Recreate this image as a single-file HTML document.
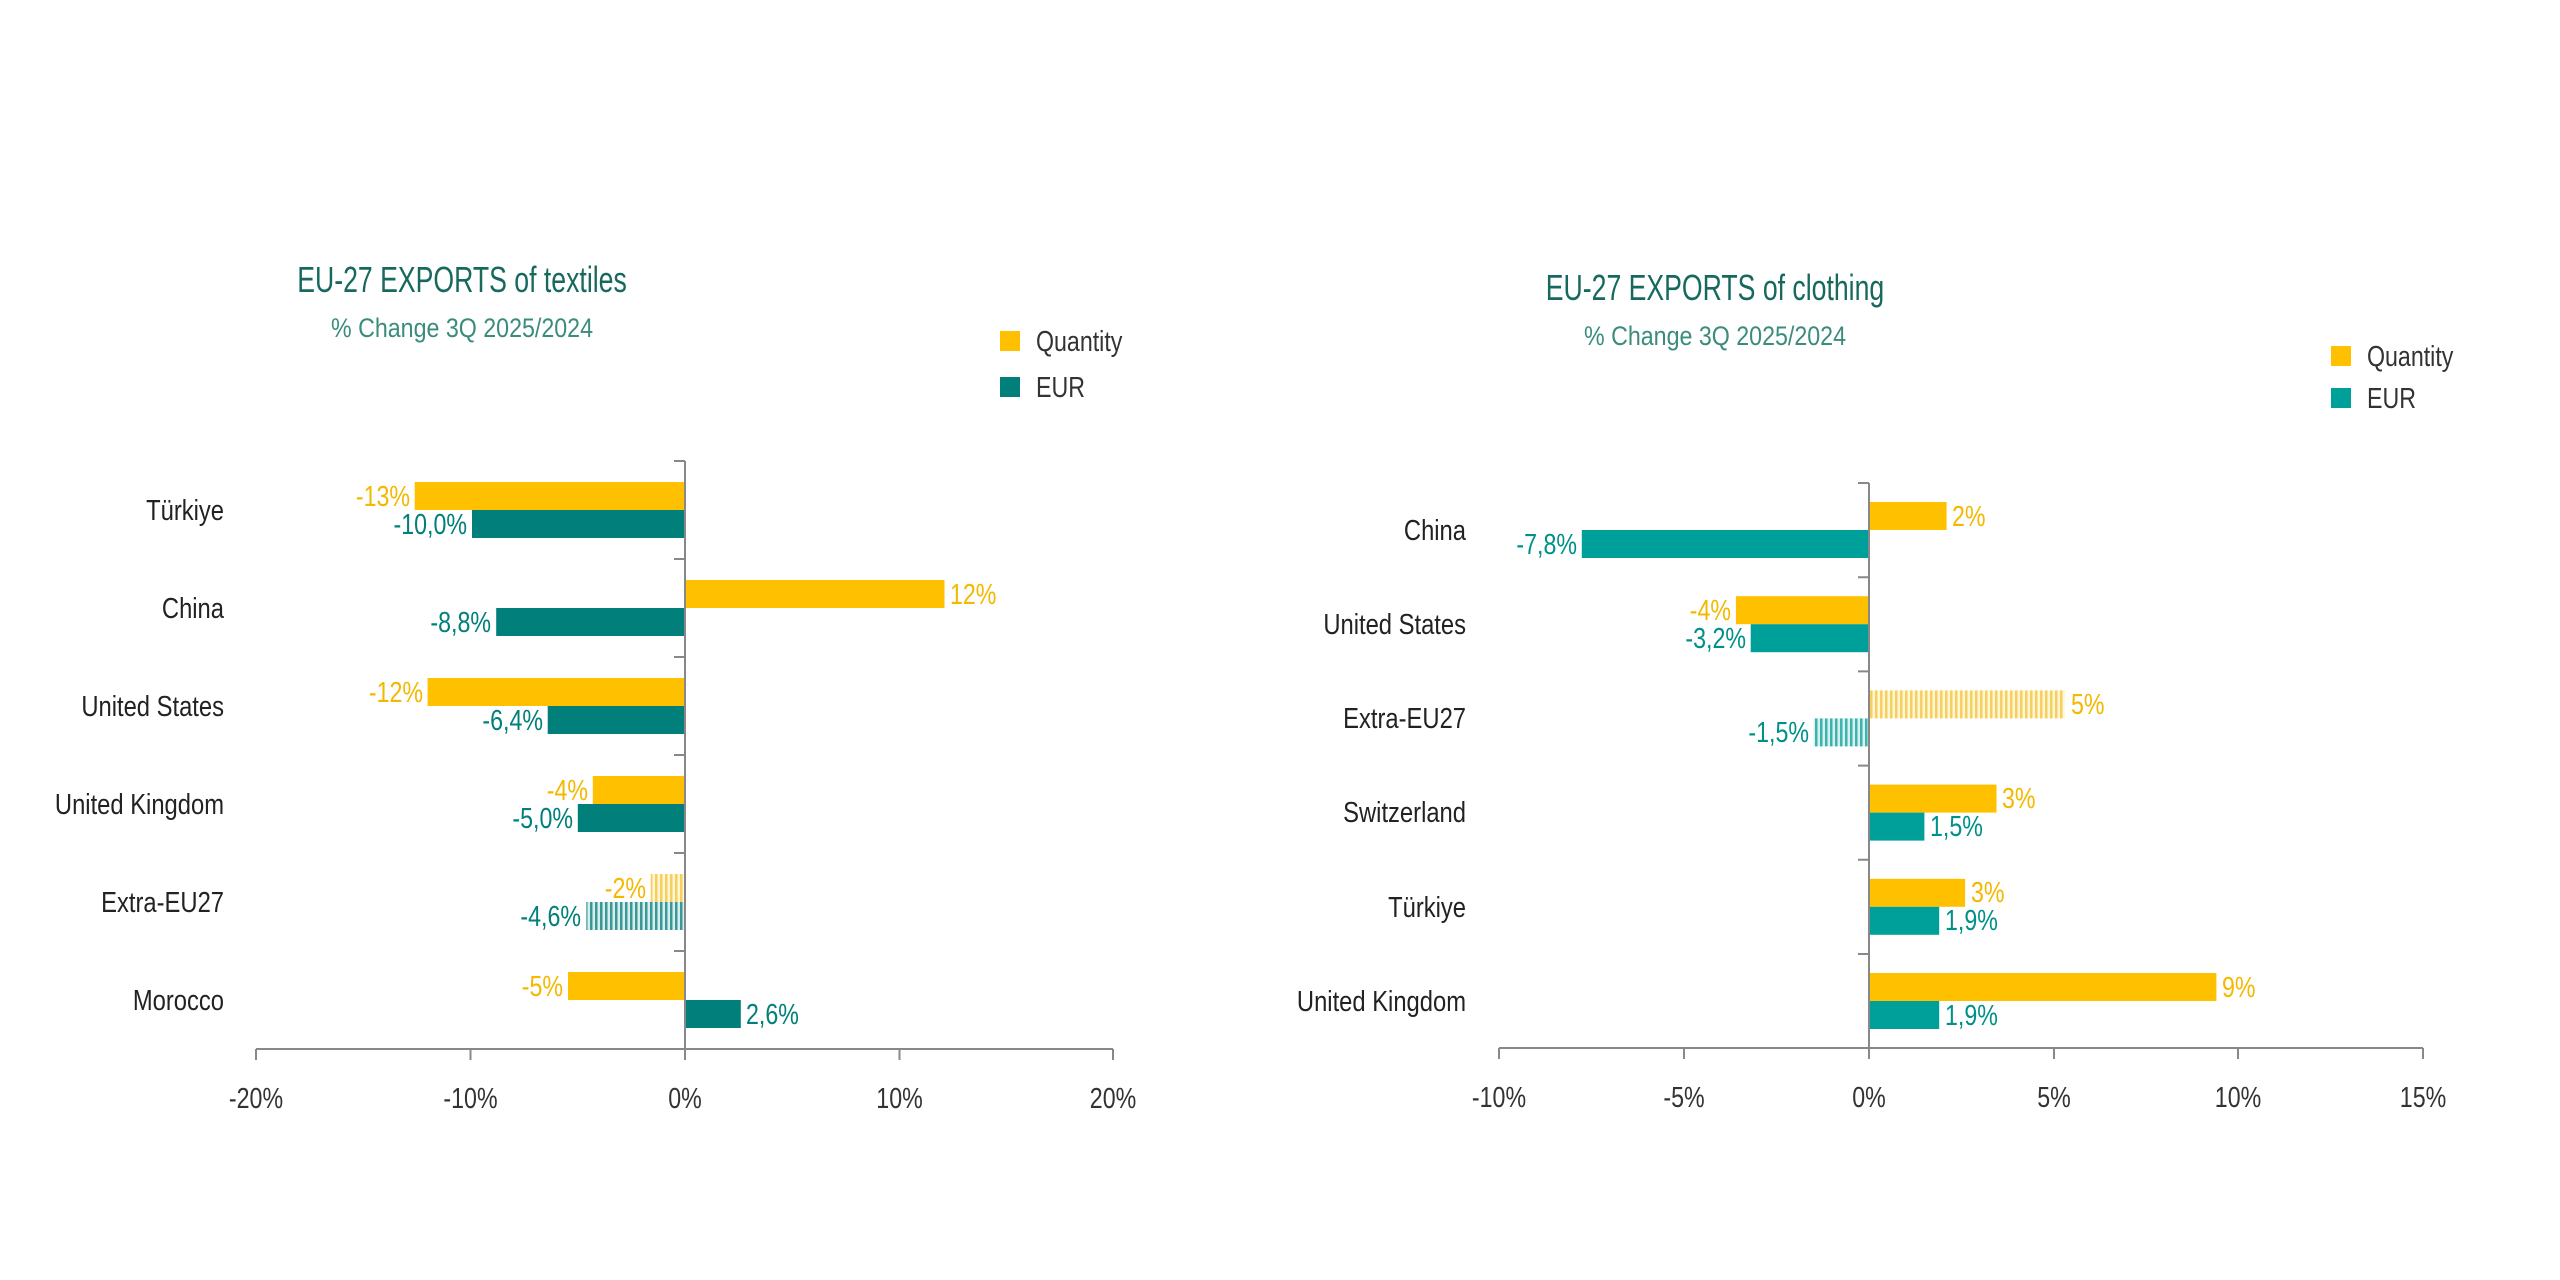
<!DOCTYPE html>
<html><head><meta charset="utf-8"><style>
html,body{margin:0;padding:0;background:#fff;}
svg{display:block;font-family:"Liberation Sans",sans-serif;}
</style></head><body>
<svg width="2560" height="1280" viewBox="0 0 2560 1280" xmlns="http://www.w3.org/2000/svg">
<defs>
<pattern id="hy" width="5" height="10" patternUnits="userSpaceOnUse"><rect width="5" height="10" fill="#fff6d6"/><rect width="2.5" height="10" fill="#f5cf60"/></pattern>
<pattern id="ht1" width="5" height="10" patternUnits="userSpaceOnUse"><rect width="5" height="10" fill="#d8eeee"/><rect width="2.5" height="10" fill="#3a9996"/></pattern>
<pattern id="ht2" width="5" height="10" patternUnits="userSpaceOnUse"><rect width="5" height="10" fill="#d8f0ef"/><rect width="2.5" height="10" fill="#3db3ae"/></pattern>
</defs>

<!-- LEFT CHART -->
<text transform="translate(462 292) scale(0.74 1)" font-size="36" fill="#17695e" text-anchor="middle">EU-27 EXPORTS of textiles</text>
<text transform="translate(462 337) scale(0.86 1)" font-size="27" fill="#3a8c7c" text-anchor="middle">% Change 3Q  2025/2024</text>
<rect x="1000" y="331" width="20" height="20" fill="#FFC000"/>
<text transform="translate(1036 351) scale(0.8 1)" font-size="29" fill="#333">Quantity</text>
<rect x="1000" y="377" width="20" height="20" fill="#007F7B"/>
<text transform="translate(1036 397) scale(0.8 1)" font-size="29" fill="#333">EUR</text>

<g fill="#FFC000">
<rect x="414.7" y="482" width="270.3" height="28"/>
<rect x="685" y="580" width="259.5" height="28"/>
<rect x="427.6" y="678" width="257.4" height="28"/>
<rect x="592.8" y="776" width="92.2" height="28"/>
<rect x="568" y="972" width="117" height="28"/>
</g>
<rect x="650.7" y="874" width="34.3" height="28" fill="url(#hy)"/>
<g fill="#007F7B">
<rect x="472" y="510" width="213" height="28"/>
<rect x="496.2" y="608" width="188.8" height="28"/>
<rect x="547.7" y="706" width="137.3" height="28"/>
<rect x="577.8" y="804" width="107.2" height="28"/>
<rect x="685" y="1000" width="55.8" height="28"/>
</g>
<rect x="586.3" y="902" width="98.7" height="28" fill="url(#ht1)"/>

<g font-size="29" fill="#F5B800" text-anchor="end">
<text transform="translate(410 506) scale(0.8 1)">-13%</text>
<text transform="translate(423 702) scale(0.8 1)">-12%</text>
<text transform="translate(588 800) scale(0.8 1)">-4%</text>
<text transform="translate(646 898) scale(0.8 1)">-2%</text>
<text transform="translate(563 996) scale(0.8 1)">-5%</text>
</g>
<text transform="translate(950 604) scale(0.8 1)" font-size="29" fill="#F5B800">12%</text>
<g font-size="29" fill="#007F7B" text-anchor="end">
<text transform="translate(467 534) scale(0.8 1)">-10,0%</text>
<text transform="translate(491 632) scale(0.8 1)">-8,8%</text>
<text transform="translate(543 730) scale(0.8 1)">-6,4%</text>
<text transform="translate(573 828) scale(0.8 1)">-5,0%</text>
<text transform="translate(581 926) scale(0.8 1)">-4,6%</text>
</g>
<text transform="translate(746 1024) scale(0.8 1)" font-size="29" fill="#007F7B">2,6%</text>

<g stroke="#888" stroke-width="2" fill="none">
<line x1="685" y1="461" x2="685" y2="1049"/>
<path d="M674 461H685M674 559H685M674 657H685M674 755H685M674 853H685M674 951H685"/>
<line x1="256" y1="1049" x2="1113" y2="1049"/>
<path d="M256 1049V1060M470.5 1049V1060M685 1049V1060M899.5 1049V1060M1113 1049V1060"/>
</g>
<g font-size="29" fill="#222" text-anchor="end">
<text transform="translate(224 520) scale(0.82 1)">Türkiye</text>
<text transform="translate(224 618) scale(0.82 1)">China</text>
<text transform="translate(224 716) scale(0.82 1)">United States</text>
<text transform="translate(224 814) scale(0.82 1)">United Kingdom</text>
<text transform="translate(224 912) scale(0.82 1)">Extra-EU27</text>
<text transform="translate(224 1010) scale(0.82 1)">Morocco</text>
</g>
<g font-size="29" fill="#333" text-anchor="middle">
<text transform="translate(256 1108) scale(0.8 1)">-20%</text>
<text transform="translate(470.5 1108) scale(0.8 1)">-10%</text>
<text transform="translate(685 1108) scale(0.8 1)">0%</text>
<text transform="translate(899.5 1108) scale(0.8 1)">10%</text>
<text transform="translate(1113 1108) scale(0.8 1)">20%</text>
</g>

<!-- RIGHT CHART -->
<text transform="translate(1715 300) scale(0.74 1)" font-size="36" fill="#17695e" text-anchor="middle">EU-27 EXPORTS of clothing</text>
<text transform="translate(1715 345) scale(0.86 1)" font-size="27" fill="#3a8c7c" text-anchor="middle">% Change 3Q  2025/2024</text>
<rect x="2331" y="346" width="20" height="20" fill="#FFC000"/>
<text transform="translate(2367 366) scale(0.8 1)" font-size="29" fill="#333">Quantity</text>
<rect x="2331" y="388" width="20" height="20" fill="#00A09A"/>
<text transform="translate(2367 408) scale(0.8 1)" font-size="29" fill="#333">EUR</text>

<g fill="#FFC000">
<rect x="1869" y="502" width="77.6" height="28"/>
<rect x="1735.9" y="596.2" width="133.1" height="28"/>
<rect x="1869" y="784.6" width="127.5" height="28"/>
<rect x="1869" y="878.8" width="96.1" height="28"/>
<rect x="1869" y="973" width="347.4" height="28"/>
</g>
<rect x="1869" y="690.4" width="195.9" height="28" fill="url(#hy)"/>
<g fill="#00A09A">
<rect x="1581.8" y="530" width="287.2" height="28"/>
<rect x="1750.7" y="624.2" width="118.3" height="28"/>
<rect x="1869" y="812.6" width="55.4" height="28"/>
<rect x="1869" y="906.8" width="70.2" height="28"/>
<rect x="1869" y="1001" width="70.2" height="28"/>
</g>
<rect x="1813.6" y="718.4" width="55.4" height="28" fill="url(#ht2)"/>

<g font-size="29" fill="#F5B800">
<text transform="translate(1952 526) scale(0.8 1)">2%</text>
<text transform="translate(2071 714) scale(0.8 1)">5%</text>
<text transform="translate(2002 808) scale(0.8 1)">3%</text>
<text transform="translate(1971 902) scale(0.8 1)">3%</text>
<text transform="translate(2222 997) scale(0.8 1)">9%</text>
</g>
<text transform="translate(1731 620) scale(0.8 1)" font-size="29" fill="#F5B800" text-anchor="end">-4%</text>
<g font-size="29" fill="#00908a" text-anchor="end">
<text transform="translate(1577 554) scale(0.8 1)">-7,8%</text>
<text transform="translate(1746 648) scale(0.8 1)">-3,2%</text>
<text transform="translate(1809 742) scale(0.8 1)">-1,5%</text>
</g>
<g font-size="29" fill="#00908a">
<text transform="translate(1930 836) scale(0.8 1)">1,5%</text>
<text transform="translate(1945 930) scale(0.8 1)">1,9%</text>
<text transform="translate(1945 1025) scale(0.8 1)">1,9%</text>
</g>

<g stroke="#888" stroke-width="2" fill="none">
<line x1="1869" y1="483" x2="1869" y2="1048"/>
<path d="M1858 483H1869M1858 577.2H1869M1858 671.4H1869M1858 765.6H1869M1858 859.8H1869M1858 954H1869"/>
<line x1="1499" y1="1048" x2="2423" y2="1048"/>
<path d="M1499 1048V1059M1684 1048V1059M1869 1048V1059M2054 1048V1059M2238 1048V1059M2423 1048V1059"/>
</g>
<g font-size="29" fill="#222" text-anchor="end">
<text transform="translate(1466 540) scale(0.82 1)">China</text>
<text transform="translate(1466 634) scale(0.82 1)">United States</text>
<text transform="translate(1466 728) scale(0.82 1)">Extra-EU27</text>
<text transform="translate(1466 822) scale(0.82 1)">Switzerland</text>
<text transform="translate(1466 917) scale(0.82 1)">Türkiye</text>
<text transform="translate(1466 1011) scale(0.82 1)">United Kingdom</text>
</g>
<g font-size="29" fill="#333" text-anchor="middle">
<text transform="translate(1499 1107) scale(0.8 1)">-10%</text>
<text transform="translate(1684 1107) scale(0.8 1)">-5%</text>
<text transform="translate(1869 1107) scale(0.8 1)">0%</text>
<text transform="translate(2054 1107) scale(0.8 1)">5%</text>
<text transform="translate(2238 1107) scale(0.8 1)">10%</text>
<text transform="translate(2423 1107) scale(0.8 1)">15%</text>
</g>
</svg>
</body></html>
